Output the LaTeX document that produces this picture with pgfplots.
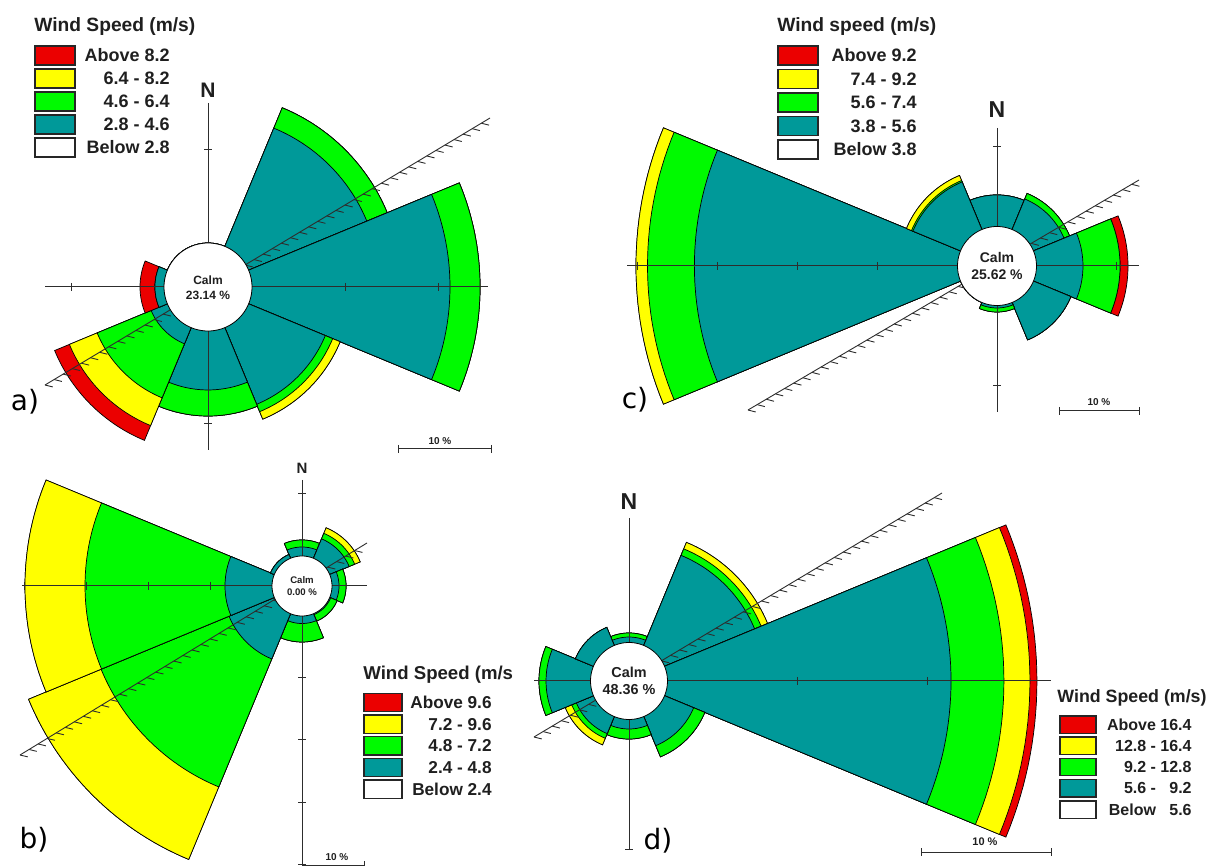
\documentclass[border=0pt]{standalone}
\usepackage{pgfplots}
\pgfplotsset{compat=1.18}
\usepackage{pgfplotstable}
\usepackage{fontspec}
\setmainfont{Liberation Sans}
\newfontfamily\djv{DejaVu Sans}
\usetikzlibrary{decorations.pathreplacing}

\definecolor{wrRed}{RGB}{235,0,0}
\definecolor{wrYel}{RGB}{255,255,0}
\definecolor{wrGrn}{RGB}{0,250,0}
\definecolor{wrTeal}{RGB}{0,153,153}
\definecolor{axgray}{RGB}{45,45,45}

% cumulative frequency (%) at the outer edge of each speed class, by direction
\pgfplotstableread{
dir teal  green yellow red
0   0     0     0      0
45  13.76 16.13 16.13  16.13
90  21.29 24.52 24.52  24.52
135 8.92  9.78  10.65  10.65
180 6.34  9.14  9.14   9.14
225 1.88  8.17  11.40  13.12
270 0.97  0.97  0.97   2.58
315 0     0     0      0
}\roseA
\pgfplotstableread{
dir teal  green yellow red
0   3.94  3.94  3.94   3.94
45  4.13  4.88  4.88   4.88
90  5.81  10.44 10.44  11.44
135 5.06  5.06  5.06   5.06
180 0.31  0.81  0.81   0.81
225 0     0     0      0
270 32.89 38.75 40.19  40.19
315 6.44  6.63  7.31   7.31
}\roseC
\pgfplotstableread{
dir teal  green yellow red
0   1.45  2.58  2.58   2.58
45  3.39  4.35  5.32   5.32
90  1.13  2.26  2.26   2.26
135 0.16  1.29  1.29   1.29
180 1.21  4.19  4.19   4.19
225 7.90  30.24 42.90  42.90
270 7.58  30.16 39.84  39.84
315 0.65  0.65  0.65   0.65
}\roseB
\pgfplotstableread{
dir teal  green yellow red
0   0.42  0.73  0.73   0.73
45  7.50  8.04  8.58   8.58
90  21.81 25.88 27.88  28.42
135 2.42  3.35  3.35   3.35
180 0.73  1.50  1.50   1.50
225 1.42  1.81  2.35   2.35
270 3.42  3.96  3.96   3.96
315 1.50  1.50  1.50   1.50
}\roseD

% sector: cx cy dir radius color
\newcommand\wrsector[5]{%
  \pgfmathsetmacro\wrA{#3-22.5}\pgfmathsetmacro\wrB{#3+22.5}%
  \edef\wrtmp{\noexpand\addplot[fill=#5,draw=black,line width=0.35pt,domain=\wrA:\wrB,samples=31,variable=\noexpand\t]
    ({#1+#4*sin(\noexpand\t)},{#2-#4*cos(\noexpand\t)}) -- (axis cs:#1,#2) -- cycle;}%
  \wrtmp}
% rose: table cx cy R0 scale(px per %)
\newcommand\wrrose[5]{%
  \pgfplotsforeachungrouped \i in {0,...,7}{%
    \pgfplotstablegetelem{\i}{dir}\of#1\let\wrdir\pgfplotsretval
    \pgfplotstablegetelem{\i}{red}\of#1\pgfmathsetmacro\wrR{#4+#5*\pgfplotsretval}%
    \wrsector{#2}{#3}{\wrdir}{\wrR}{wrRed}%
    \pgfplotstablegetelem{\i}{yellow}\of#1\pgfmathsetmacro\wrR{#4+#5*\pgfplotsretval}%
    \wrsector{#2}{#3}{\wrdir}{\wrR}{wrYel}%
    \pgfplotstablegetelem{\i}{green}\of#1\pgfmathsetmacro\wrR{#4+#5*\pgfplotsretval}%
    \wrsector{#2}{#3}{\wrdir}{\wrR}{wrGrn}%
    \pgfplotstablegetelem{\i}{teal}\of#1\pgfmathsetmacro\wrR{#4+#5*\pgfplotsretval}%
    \wrsector{#2}{#3}{\wrdir}{\wrR}{wrTeal}%
  }%
}
\newcommand\wrcalm[3]{%
  \addplot[fill=white,draw=black,line width=0.4pt,domain=0:360,samples=91,variable=\t]
    ({#1+#3*sin(\t)},{#2-#3*cos(\t)}) -- cycle;}
\newcommand\seg[4]{\addplot[draw=axgray,line width=0.5pt] coordinates {(#1,#2) (#3,#4)};}
\newcommand\hatch[4]{\addplot[draw=axgray,line width=0.45pt,
   postaction={decorate,decoration={border,segment length=5.3pt,amplitude=4pt,angle=-45}}]
   coordinates {(#1,#2) (#3,#4)};}
\newcommand\lbox[5]{\addplot[fill=#5,draw=black!85,line width=0.7pt] coordinates {(#1,#2) (#3,#2) (#3,#4) (#1,#4)} -- cycle;}
\newcommand\lf{\fontsize{9}{10}\selectfont\bfseries}
\newcommand\lft{\fontsize{9.6}{10}\selectfont\bfseries}
\newcommand\lfb{\fontsize{8.6}{10}\selectfont\bfseries}
\newcommand\lfd{\fontsize{8}{10}\selectfont\bfseries}

\begin{document}
\begin{tikzpicture}
\begin{axis}[x=0.5pt, y=0.5pt, xmin=0, xmax=1207, ymin=0, ymax=866,
  y dir=reverse, hide axis, clip=false, anchor=south west, at={(0,0)}]

%================ rose a =================
\wrrose{\roseA}{208}{287}{44}{9.3}
\seg{208}{103}{208}{450}\seg{45}{287}{488}{287}
\seg{204}{150}{212}{150}\seg{204}{424}{212}{424}\seg{71}{283}{71}{291}
\seg{345}{283}{345}{291}\seg{438}{283}{438}{291}
\hatch{45}{385}{490}{118}
\wrcalm{208}{287}{44}
%================ rose c =================
\wrrose{\roseC}{997}{266}{39.5}{8.0}
\seg{997}{128}{997}{412}\seg{627}{266}{1139}{266}
\seg{993}{146.5}{1001}{146.5}\seg{993}{385.5}{1001}{385.5}\seg{1116.5}{262}{1116.5}{270}
\seg{877.5}{262}{877.5}{270}\seg{797.5}{262}{797.5}{270}\seg{717.5}{262}{717.5}{270}\seg{637.5}{262}{637.5}{270}
\hatch{748}{410}{1139}{180}
\wrcalm{997}{266}{39.5}
%================ rose b =================
\wrrose{\roseB}{302}{586}{30}{6.2}
\seg{302}{480}{302}{870}\seg{22}{586}{367}{586}
\seg{298}{494}{306}{494}
\seg{298}{678}{306}{678}\seg{298}{740}{306}{740}\seg{298}{802}{306}{802}\seg{298}{864}{306}{864}
\seg{210}{582}{210}{590}\seg{148}{582}{148}{590}\seg{86}{582}{86}{590}\seg{24}{582}{24}{590}
\hatch{20}{755}{367}{543}
\wrcalm{302}{586}{30}
%================ rose d =================
\wrrose{\roseD}{629}{681}{38.5}{13.0}
\seg{629}{518}{629}{849.5}\seg{534}{681}{1051}{681}
\seg{797.5}{677}{797.5}{685}\seg{927.5}{677}{927.5}{685}\seg{625}{849.5}{633}{849.5}
\hatch{534}{737}{942}{493}
\wrcalm{629}{681}{38.5}

%================ scale bars =================
\seg{398}{449}{491}{449}\seg{398}{445}{398}{453}\seg{491}{445}{491}{453}
\seg{1059}{411}{1139}{411}\seg{1059}{407}{1059}{415}\seg{1139}{407}{1139}{415}
\seg{302}{865}{364}{865}\seg{364}{861}{364}{869}
\seg{921}{852}{1051}{852}\seg{921}{848}{921}{856}\seg{1051}{848}{1051}{856}

%================ legend boxes =================
\lbox{35}{46}{75}{65}{wrRed}\lbox{35}{69}{75}{88}{wrYel}\lbox{35}{92}{75}{111}{wrGrn}
\lbox{35}{115}{75}{134}{wrTeal}\lbox{35}{138}{75}{157}{white}
\lbox{778}{46}{818}{65}{wrRed}\lbox{778}{69.5}{818}{88.5}{wrYel}\lbox{778}{93}{818}{112}{wrGrn}
\lbox{778}{116.5}{818}{135.5}{wrTeal}\lbox{778}{140}{818}{159}{white}
\lbox{364}{693.3}{402}{711.7}{wrRed}\lbox{364}{715}{402}{733.4}{wrYel}\lbox{364}{736.7}{402}{755.1}{wrGrn}
\lbox{364}{758.4}{402}{776.8}{wrTeal}\lbox{364}{780.1}{402}{798.5}{white}
\lbox{1060}{716}{1096}{733.4}{wrRed}\lbox{1060}{737.2}{1096}{754.6}{wrYel}\lbox{1060}{758.4}{1096}{775.8}{wrGrn}
\lbox{1060}{779.6}{1096}{797}{wrTeal}\lbox{1060}{800.8}{1096}{818.2}{white}

%================ texts =================
\begin{scope}[every node/.style={text=black!88, inner sep=0pt}]
% legend a
\node[anchor=west,font=\lft] at (axis cs:34,27) {Wind Speed (m/s)};
\node[anchor=east,font=\lf] at (axis cs:170,55.5) {Above 8.2};
\node[anchor=east,font=\lf] at (axis cs:170,78.5) {6.4 - 8.2};
\node[anchor=east,font=\lf] at (axis cs:170,101.5) {4.6 - 6.4};
\node[anchor=east,font=\lf] at (axis cs:170,124.5) {2.8 - 4.6};
\node[anchor=east,font=\lf] at (axis cs:170,147.5) {Below 2.8};
% legend c
\node[anchor=west,font=\lft] at (axis cs:777,27) {Wind speed (m/s)};
\node[anchor=east,font=\lf] at (axis cs:917,55.5) {Above 9.2};
\node[anchor=east,font=\lf] at (axis cs:917,79) {7.4 - 9.2};
\node[anchor=east,font=\lf] at (axis cs:917,102.5) {5.6 - 7.4};
\node[anchor=east,font=\lf] at (axis cs:917,126) {3.8 - 5.6};
\node[anchor=east,font=\lf] at (axis cs:917,149.5) {Below 3.8};
% legend b
\node[anchor=west,font=\fontsize{9.3}{10}\selectfont\bfseries] at (axis cs:363,675) {Wind Speed (m/s};
\node[anchor=east,font=\lfb] at (axis cs:492,702.5) {Above 9.6};
\node[anchor=east,font=\lfb] at (axis cs:492,724.2) {7.2 - 9.6};
\node[anchor=east,font=\lfb] at (axis cs:492,745.9) {4.8 - 7.2};
\node[anchor=east,font=\lfb] at (axis cs:492,767.6) {2.4 - 4.8};
\node[anchor=east,font=\lfb] at (axis cs:492,789.3) {Below 2.4};
% legend d
\node[anchor=west,font=\fontsize{8.9}{10}\selectfont\bfseries] at (axis cs:1057,698) {Wind Speed (m/s)};
\node[anchor=east,font=\lfd] at (axis cs:1192,724.7) {Above 16.4};
\node[anchor=east,font=\lfd] at (axis cs:1192,745.9) {12.8 - 16.4};
\node[anchor=east,font=\lfd] at (axis cs:1192,767.1) {9.2 - 12.8};
\node[anchor=east,font=\lfd] at (axis cs:1192,788.3) {5.6 -\ \ \ 9.2};
\node[anchor=east,font=\lfd] at (axis cs:1192,809.5) {Below\ \ \ 5.6};
% N labels
\node[font=\fontsize{10.5}{11}\selectfont\bfseries] at (axis cs:208,90) {N};
\node[font=\fontsize{11.5}{12}\selectfont\bfseries] at (axis cs:997,110) {N};
\node[font=\fontsize{7.5}{8}\selectfont\bfseries] at (axis cs:302,468) {N};
\node[font=\fontsize{11.5}{12}\selectfont\bfseries] at (axis cs:629,502) {N};
% calm texts
\node[font=\fontsize{6}{7}\selectfont\bfseries] at (axis cs:208,280.5) {Calm};
\node[font=\fontsize{6}{7}\selectfont\bfseries] at (axis cs:208,295) {23.14 \%};
\node[font=\fontsize{7}{8}\selectfont\bfseries] at (axis cs:997,257) {Calm};
\node[font=\fontsize{7}{8}\selectfont\bfseries] at (axis cs:997,275) {25.62 \%};
\node[font=\fontsize{4.8}{5}\selectfont\bfseries] at (axis cs:302,580.5) {Calm};
\node[font=\fontsize{4.8}{5}\selectfont\bfseries] at (axis cs:302,592) {0.00 \%};
\node[font=\fontsize{7.2}{8}\selectfont\bfseries] at (axis cs:629,672) {Calm};
\node[font=\fontsize{7.2}{8}\selectfont\bfseries] at (axis cs:629,690) {48.36 \%};
% scale labels
\node[font=\fontsize{5}{6}\selectfont\bfseries] at (axis cs:440,441) {10 \%};
\node[font=\fontsize{5}{6}\selectfont\bfseries] at (axis cs:1099,402) {10 \%};
\node[font=\fontsize{5}{6}\selectfont\bfseries] at (axis cs:337,857) {10 \%};
\node[font=\fontsize{5.5}{6}\selectfont\bfseries] at (axis cs:985,842) {10 \%};
% panel labels
\node[font=\fontsize{14}{15}\selectfont\djv, text=black] at (axis cs:25,402) {a)};
\node[font=\fontsize{14}{15}\selectfont\djv, text=black] at (axis cs:635,400) {c)};
\node[font=\fontsize{14}{15}\selectfont\djv, text=black] at (axis cs:34,840) {b)};
\node[font=\fontsize{14}{15}\selectfont\djv, text=black] at (axis cs:658,841) {d)};
\end{scope}
\end{axis}
\pgfresetboundingbox
\useasboundingbox (current axis.south west) rectangle (current axis.north east);
\end{tikzpicture}
\end{document}
